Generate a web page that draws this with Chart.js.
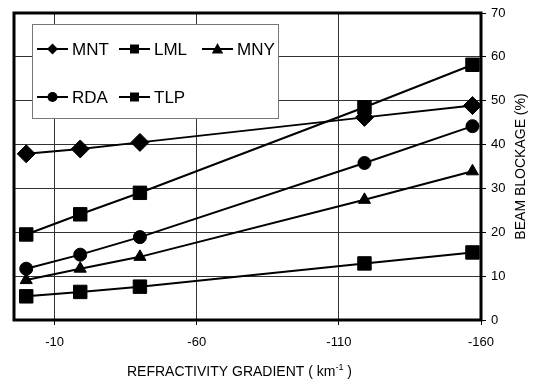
<!DOCTYPE html>
<html>
<head>
<meta charset="utf-8">
<script src="https://cdn.jsdelivr.net/npm/chart.js@4/dist/chart.umd.min.js"></script>
<style>
html, body { margin: 0; padding: 0; background: #fff; }
</style>
</head>
<body>
<canvas id="bloqueio" width="535" height="382"></canvas>
<script>
// refractivity gradient (km^-1) for each point
const gradientes = [0, -19, -40, -119, -157];
// beam blockage (%) per radar
const mnt = [37.9, 39.0, 40.5, 46.2, 48.9];
const lml = [5.4, 6.4, 7.6, 12.9, 15.4];
const mny = [9.1, 11.7, 14.4, 27.4, 33.9];
const rda = [11.7, 14.9, 18.9, 35.8, 44.2];
const tlp = [19.5, 24.1, 29.0, 48.5, 58.2];
const xTicks = [-10, -60, -110, -160];
const yTicks = [0, 10, 20, 30, 40, 50, 60, 70];

const FONTE = "'Liberation Sans', Arial, sans-serif";

function pontos(arr) {
    return gradientes.map((x, i) => ({ x: x, y: arr[i] }));
}

function serie(label, arr, estilo, raio) {
    return {
        label: label,
        data: pontos(arr),
        showLine: true,
        borderColor: '#000',
        backgroundColor: '#000',
        borderWidth: 2,
        pointStyle: estilo,
        pointRadius: raio,
        pointBorderColor: '#000',
        pointBackgroundColor: '#000',
        pointBorderWidth: 1
    };
}

// small marker drawing for the legend box
function marcador(ctx, estilo, x, y, r) {
    ctx.beginPath();
    if (estilo === 'rectRot') {
        ctx.moveTo(x, y - r); ctx.lineTo(x + r, y); ctx.lineTo(x, y + r); ctx.lineTo(x - r, y);
    } else if (estilo === 'rect') {
        ctx.rect(x - r, y - r, 2 * r, 2 * r);
    } else if (estilo === 'circle') {
        ctx.arc(x, y, r, 0, Math.PI * 2);
    } else if (estilo === 'triangle') {
        ctx.moveTo(x, y - r); ctx.lineTo(x + r * 0.95, y + r * 0.75); ctx.lineTo(x - r * 0.95, y + r * 0.75);
    }
    ctx.closePath();
    ctx.fill();
}

const legendaBox = {
    id: 'legendaBox',
    afterDatasetsDraw(chart) {
        const ctx = chart.ctx;
        ctx.save();
        ctx.fillStyle = '#fff';
        ctx.fillRect(32, 24, 246, 94);
        ctx.strokeStyle = '#777';
        ctx.lineWidth = 1;
        ctx.strokeRect(32.5, 24.5, 246, 94);
        const itens = [
            ['MNT', 'rectRot', 5.5, 37, 49],
            ['LML', 'rect', 4.5, 119, 49],
            ['MNY', 'triangle', 6, 202, 49],
            ['RDA', 'circle', 5, 37, 97],
            ['TLP', 'rect', 4.5, 119, 97]
        ];
        ctx.font = '17px ' + FONTE;
        ctx.textBaseline = 'middle';
        ctx.textAlign = 'left';
        itens.forEach(it => {
            const [txt, est, r, x, y] = it;
            ctx.strokeStyle = '#000';
            ctx.lineWidth = 2;
            ctx.beginPath();
            ctx.moveTo(x, y); ctx.lineTo(x + 31, y);
            ctx.stroke();
            ctx.fillStyle = '#000';
            marcador(ctx, est, x + 15.5, y, r);
            ctx.fillText(txt, x + 35, y + 1);
        });
        ctx.restore();
    },
    afterDraw(chart) {
        const ctx = chart.ctx;
        const a = chart.chartArea;
        ctx.save();
        ctx.strokeStyle = '#000';
        ctx.lineWidth = 3;
        ctx.strokeRect(a.left, a.top, a.right - a.left, a.bottom - a.top);

        // x title with superscript
        ctx.fillStyle = '#000';
        ctx.textBaseline = 'alphabetic';
        ctx.textAlign = 'left';
        const t1 = 'REFRACTIVITY GRADIENT ( km', t2 = '-1', t3 = ' )';
        ctx.font = '14px ' + FONTE;
        const w1 = ctx.measureText(t1).width, w3 = ctx.measureText(t3).width;
        ctx.font = '9px ' + FONTE;
        const w2 = ctx.measureText(t2).width;
        let x0 = 127;
        ctx.font = '14px ' + FONTE;
        ctx.fillText(t1, x0, 376);
        ctx.font = '9px ' + FONTE;
        ctx.fillText(t2, x0 + w1, 370);
        ctx.font = '14px ' + FONTE;
        ctx.fillText(t3, x0 + w1 + w2, 376);

        // y title, reading bottom to top
        ctx.translate(521, (a.top + a.bottom) / 2);
        ctx.rotate(-Math.PI / 2);
        ctx.textAlign = 'center';
        ctx.textBaseline = 'middle';
        ctx.fillText('BEAM BLOCKAGE (%)', 0, 0);
        ctx.restore();
    }
};

const ctx = document.getElementById('bloqueio').getContext('2d');
const grafico = new Chart(ctx, {
    type: 'scatter',
    data: {
        datasets: [
            serie('MNT', mnt, 'rectRot', 9),
            serie('LML', lml, 'rect', 9.5),
            serie('MNY', mny, 'triangle', 7),
            serie('RDA', rda, 'circle', 6.5),
            serie('TLP', tlp, 'rect', 9.5)
        ]
    },
    options: {
        responsive: false,
        animation: false,
        layout: { padding: { left: 14, top: 13, right: 0, bottom: 0 } },
        plugins: {
            legend: { display: false },
            tooltip: { enabled: false }
        },
        scales: {
            x: {
                type: 'linear',
                reverse: true,
                min: -160,
                max: 4.3,
                afterBuildTicks: s => { s.ticks = xTicks.map(v => ({ value: v })); },
                afterFit: s => { s.height = 62; },
                grid: { color: '#333', lineWidth: 1, tickLength: 5, tickColor: '#000' },
                border: { display: false },
                ticks: {
                    color: '#000',
                    font: { family: FONTE, size: 13 },
                    padding: 10,
                    maxRotation: 0,
                    callback: v => String(v)
                }
            },
            y: {
                position: 'right',
                min: 0,
                max: 70,
                afterBuildTicks: s => { s.ticks = yTicks.map(v => ({ value: v })); },
                afterFit: s => { s.width = 54; },
                grid: { color: '#333', lineWidth: 1, tickLength: 5, tickColor: '#000' },
                border: { display: false },
                ticks: {
                    color: '#000',
                    font: { family: FONTE, size: 13 },
                    padding: 5,
                    callback: v => String(v)
                }
            }
        }
    },
    plugins: [legendaBox]
});
</script>
</body>
</html>
